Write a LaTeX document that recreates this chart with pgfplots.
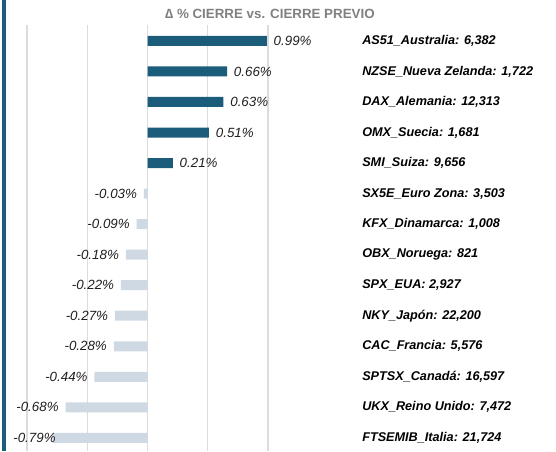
\documentclass[border=0pt]{standalone}
\usepackage{pgfplots}
\pgfplotsset{compat=1.18}
\usepackage{pgfplotstable}
\usepackage{fontspec}
\setmainfont{Liberation Sans}
\definecolor{tealbar}{RGB}{26,92,122}
\definecolor{palebar}{RGB}{207,217,228}
\definecolor{gridc}{RGB}{220,220,220}
\definecolor{titlec}{RGB}{128,128,128}
\definecolor{labc}{RGB}{30,30,30}

% positive changes
\pgfplotstableread{
y v
0 0.99
1 0.66
2 0.63
3 0.51
4 0.21
}\posdata
% negative changes; lx = where the label sits
\pgfplotstableread{
y v lx
5 -0.03 -0.03
6 -0.09 -0.09
7 -0.18 -0.18
8 -0.22 -0.22
9 -0.27 -0.27
10 -0.28 -0.28
11 -0.44 -0.44
12 -0.68 -0.68
13 -0.79 -0.705
}\negdata

\begin{document}
\begin{tikzpicture}
\path[use as bounding box] (0,0) rectangle (417pt,338.25pt);
\draw[tealbar, line width=3pt] (3pt,0) -- (3pt,338.25pt);
\begin{axis}[
  at={(20.25pt,0pt)}, anchor=south west,
  scale only axis,
  width=180.75pt, height=319.5pt,
  xmin=-1, xmax=1,
  ymin=-0.52, ymax=13.43,
  y dir=reverse,
  clip=false,
  axis line style={draw=none},
  tick style={draw=none},
  xtick={-1,-0.5,0,0.5,1},
  xticklabels={},
  xmajorgrids=true,
  grid style={draw=gridc, line width=0.9pt},
  ytick={0,...,13},
  yticklabels={
    {AS51\_Australia: 6,382},
    {NZSE\_Nueva Zelanda: 1,722},
    {DAX\_Alemania: 12,313},
    {OMX\_Suecia: 1,681},
    {SMI\_Suiza: 9,656},
    {SX5E\_Euro Zona: 3,503},
    {KFX\_Dinamarca: 1,008},
    {OBX\_Noruega: 821},
    {SPX\_EUA: 2,927},
    {NKY\_Japón: 22,200},
    {CAC\_Francia: 5,576},
    {SPTSX\_Canadá: 16,597},
    {UKX\_Reino Unido: 7,472},
    {FTSEMIB\_Italia: 21,724}},
  yticklabel pos=right,
  yticklabel style={anchor=west, inner sep=0pt, xshift=70.5pt,
    font=\fontsize{9.5}{11}\selectfont\bfseries\itshape, text=black},
  title={\textbf{∆ \% CIERRE vs. CIERRE PREVIO}},
  title style={at={(1.008,1)}, anchor=center, yshift=2.5pt, inner sep=0pt,
    font=\fontsize{10}{12}\selectfont\bfseries, text=titlec},
  bar width=7.5pt,
]
\addplot[xbar, bar shift=0pt, fill=tealbar, draw=none] table[x=v, y=y] {\posdata};
\addplot[xbar, bar shift=0pt, fill=palebar, draw=none] table[x=v, y=y] {\negdata};
\addplot[draw=none, mark=none, point meta=\thisrow{v},
  nodes near coords={\pgfmathprintnumber[fixed, fixed zerofill, precision=2, assume math mode=true]{\pgfplotspointmeta}\%},
  every node near coord/.style={anchor=west, xshift=5pt, inner sep=0pt,
    font=\fontsize{10}{12}\selectfont\itshape, text=labc}]
  table[x=v, y=y] {\posdata};
\addplot[draw=none, mark=none, point meta=\thisrow{v},
  nodes near coords={\pgfmathprintnumber[fixed, fixed zerofill, precision=2, assume math mode=true]{\pgfplotspointmeta}\%},
  every node near coord/.style={anchor=east, xshift=-5pt, inner sep=0pt,
    font=\fontsize{10}{12}\selectfont\itshape, text=labc}]
  table[x=lx, y=y] {\negdata};
\end{axis}
\end{tikzpicture}
\end{document}
